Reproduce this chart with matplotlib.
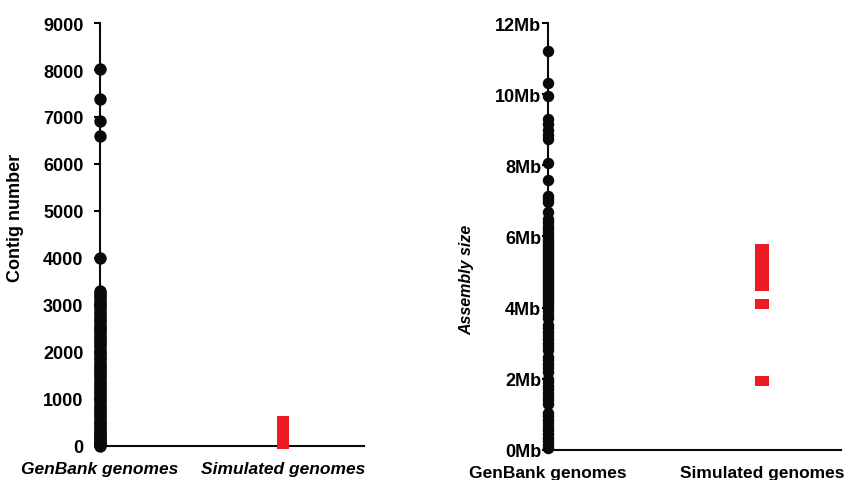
import matplotlib.pyplot as plt
from matplotlib.ticker import FuncFormatter

plt.rcParams['font.family'] = ['Liberation Sans', 'DejaVu Sans']

categories = ["GenBank genomes", "Simulated genomes"]

# contig numbers
genbank_contigs = [
    8020, 7375, 6915, 6596, 4000,
    3300, 3260, 3210, 3180, 3120, 3060, 3020, 2970, 2930, 2880, 2820, 2780,
    2730, 2690, 2640, 2580, 2540, 2490, 2450, 2400, 2350, 2300, 2260, 2210,
    2160, 2120, 2070, 2010, 1970, 1920, 1880, 1830, 1770, 1730, 1690, 1640,
    1590, 1550, 1500, 1460, 1410, 1360, 1320, 1270, 1230, 1180, 1140, 1090,
    1040, 990, 950, 900, 860, 810, 770, 720, 680, 630, 590, 540, 500, 460,
    420, 380, 340, 300, 270, 230, 200, 170, 140, 110, 85, 60, 40, 25, 10,
]
simulated_contigs = [20, 70, 120, 180, 240, 300, 370, 430, 500, 560]

# assembly sizes in Mb
genbank_size = [
    11.2, 10.3, 9.95, 9.3, 9.15, 9.0, 8.85, 8.75, 8.07, 7.6, 7.15, 7.05,
    6.97, 6.7, 6.5, 6.4, 6.3, 6.22, 6.12, 6.05, 5.95, 5.88, 5.8, 5.72,
    5.65, 5.57, 5.5, 5.42, 5.35, 5.27, 5.2, 5.12, 5.05, 4.97, 4.9, 4.82,
    4.75, 4.67, 4.6, 4.52, 4.45, 4.37, 4.3, 4.22, 4.15, 4.07, 4.0, 3.9,
    3.8, 3.7, 3.5, 3.42, 3.32, 3.22, 3.12, 3.02, 2.92, 2.82, 2.62, 2.52,
    2.42, 2.3, 2.2, 2.0, 1.9, 1.8, 1.7, 1.6, 1.5, 1.4, 1.3, 1.05, 0.95,
    0.85, 0.75, 0.65, 0.55, 0.45, 0.35, 0.25, 0.15, 0.05,
]
simulated_size = [5.65, 5.45, 5.25, 5.05, 4.85, 4.62, 4.09, 1.95]

black = '#0a0a0a'
red = '#ed1c24'
rect = [(-0.7, -0.5), (0.7, -0.5), (0.7, 0.5), (-0.7, 0.5), (-0.7, -0.5)]

fig = plt.figure(figsize=(8.56, 4.81), dpi=100)
ax1 = fig.add_axes([0.1168, 0.0707, 0.3084, 0.8794])
ax2 = fig.add_axes([0.6402, 0.0624, 0.3423, 0.8877])

def style(ax):
    for s in ['top', 'right']:
        ax.spines[s].set_visible(False)
    for s in ['left', 'bottom']:
        ax.spines[s].set_linewidth(1.5)
        ax.spines[s].set_color(black)
    ax.tick_params(axis='x', length=0, pad=11)
    ax.set_xticks([0, 1])

# left panel
ax1.scatter([0] * len(genbank_contigs), genbank_contigs, s=80, color=black,
            clip_on=False, zorder=3, linewidths=0)
ax1.scatter([1] * len(simulated_contigs), simulated_contigs, s=75, marker=rect,
            color=red, clip_on=False, zorder=3, linewidths=0)
ax1.set_xlim(0, 1.44)
ax1.set_ylim(0, 9000)
ax1.set_yticks(range(0, 9001, 1000))
style(ax1)
ax1.tick_params(axis='y', length=4, width=1.5, pad=8, labelsize=13)
ax1.set_xticklabels(categories, fontsize=12.5, fontweight='bold', style='italic')
for lab in ax1.get_yticklabels():
    lab.set_fontweight('bold')
ax1.set_ylabel("Contig number", fontsize=13, fontweight='bold')
ax1.yaxis.set_label_coords(-0.288, 0.541)

# right panel
ax2.scatter([0] * len(genbank_size), genbank_size, s=68, color=black,
            clip_on=False, zorder=3, linewidths=0)
ax2.scatter([1] * len(simulated_size), simulated_size, s=100, marker=rect,
            color=red, clip_on=False, zorder=3, linewidths=0)
ax2.set_xlim(0, 1.37)
ax2.set_ylim(0, 12)
ax2.set_yticks(range(0, 13, 2))
ax2.yaxis.set_major_formatter(FuncFormatter(lambda v, p: "%dMb" % v))
style(ax2)
ax2.tick_params(axis='y', length=4, width=1.5, pad=1, labelsize=13)
ax2.set_xticklabels(categories, fontsize=12.5, fontweight='bold')
for lab in ax2.get_yticklabels():
    lab.set_fontweight('bold')
ax2.set_ylabel("Assembly size", fontsize=11.5, fontweight='bold', style='italic')
ax2.yaxis.set_label_coords(-0.253, 0.40)

fig.savefig("out.png", dpi=100)
